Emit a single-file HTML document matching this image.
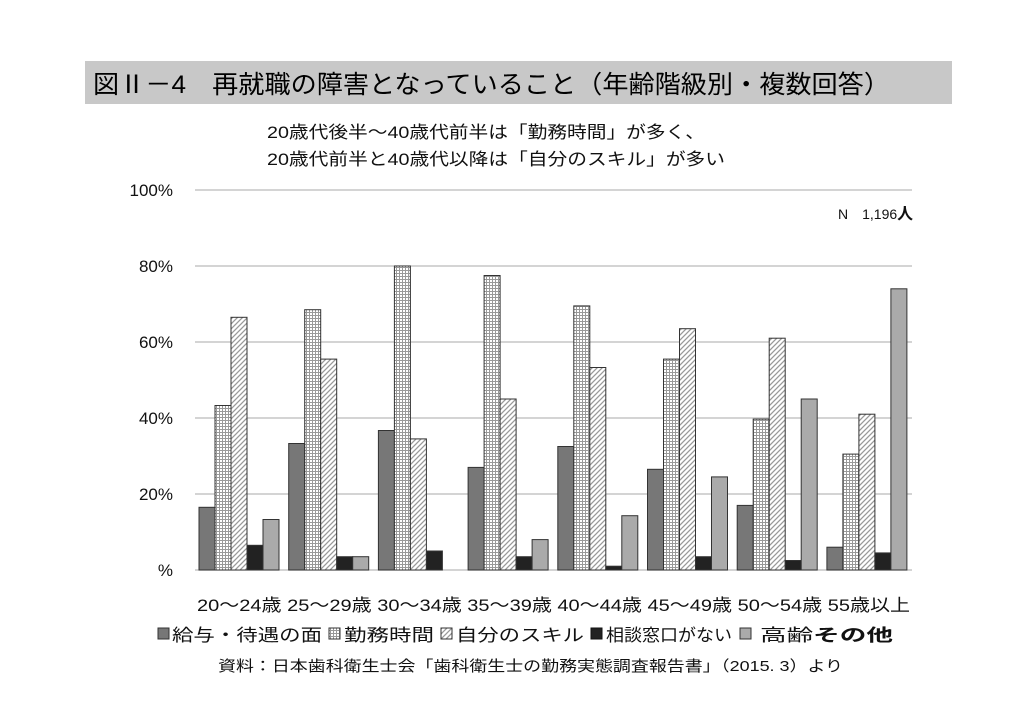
<!DOCTYPE html>
<html><head><meta charset="utf-8"><style>
body{margin:0;background:#fff}
svg text{font-family:"Liberation Sans","Noto Sans CJK JP",sans-serif;fill:#111}
</style></head><body>
<svg width="1024" height="717" xmlns="http://www.w3.org/2000/svg">
<defs>
<pattern id="grid" width="3" height="3" patternUnits="userSpaceOnUse">
<rect width="3" height="3" fill="#fff"/><path d="M0 0.5H3M0.5 0V3" stroke="#999" stroke-width="1"/>
</pattern>
<pattern id="diag" width="5" height="5" patternUnits="userSpaceOnUse">
<rect width="5" height="5" fill="#fff"/><path d="M-1 6L6 -1M-1 1L1 -1M4 6L6 4" stroke="#999" stroke-width="1.3"/>
</pattern>
</defs>
<rect x="85" y="61" width="867" height="43" fill="#c8c8c8"/>
<text x="93" y="93" font-size="25" textLength="797" lengthAdjust="spacingAndGlyphs" style="fill:#000">図Ⅱ－4　再就職の障害となっていること（年齢階級別・複数回答）</text>
<text x="267" y="138" font-size="17" textLength="438" lengthAdjust="spacingAndGlyphs">20歳代後半～40歳代前半は「勤務時間」が多く、</text>
<text x="267" y="165" font-size="17" textLength="458" lengthAdjust="spacingAndGlyphs">20歳代前半と40歳代以降は「自分のスキル」が多い</text>
<g stroke="#bbb" stroke-width="1.3">
<line x1="195" y1="190" x2="912" y2="190"/><line x1="195" y1="266" x2="912" y2="266"/>
<line x1="195" y1="342" x2="912" y2="342"/><line x1="195" y1="418" x2="912" y2="418"/>
<line x1="195" y1="494" x2="912" y2="494"/><line x1="195" y1="570" x2="912" y2="570"/>
</g>
<g font-size="17" text-anchor="end">
<text x="173" y="196">100%</text><text x="173" y="272">80%</text><text x="173" y="348">60%</text>
<text x="173" y="424">40%</text><text x="173" y="500">20%</text><text x="173" y="576">%</text>
</g>
<text x="838" y="219" font-size="14">N　1,196<tspan font-weight="bold" font-size="16">人</tspan></text>
<g id="bars" stroke="#333" stroke-width="1"></g>
<text x="197" y="611" font-size="17" textLength="713" lengthAdjust="spacingAndGlyphs">20～24歳 25～29歳 30～34歳 35～39歳 40～44歳 45～49歳 50～54歳 55歳以上</text>
<g font-size="17">
<rect x="158" y="628" width="11" height="11" fill="#777" stroke="#333"/>
<text x="172" y="641" textLength="150" lengthAdjust="spacingAndGlyphs">給与・待遇の面</text>
<rect x="329" y="628" width="11" height="11" fill="url(#grid)" stroke="#333"/>
<text x="344" y="641" textLength="90" lengthAdjust="spacingAndGlyphs">勤務時間</text>
<rect x="441" y="628" width="11" height="11" fill="url(#diag)" stroke="#333"/>
<text x="456" y="641" textLength="128" lengthAdjust="spacingAndGlyphs">自分のスキル</text>
<rect x="591" y="628" width="11" height="11" fill="#222" stroke="#111"/>
<text x="606" y="641" textLength="126" lengthAdjust="spacingAndGlyphs">相談窓口がない</text>
<rect x="740" y="628" width="11" height="11" fill="#aaa" stroke="#333"/>
<text x="760" y="641" textLength="133" lengthAdjust="spacingAndGlyphs">高齢<tspan font-weight="bold">その他</tspan></text>
</g>
<text x="218" y="671" font-size="15" textLength="625" lengthAdjust="spacingAndGlyphs">資料：日本歯科衛生士会「歯科衛生士の勤務実態調査報告書」（2015. 3）より</text>
</svg>
<script>
var d=[[16.5,43.3,66.5,6.5,13.3],[33.3,68.5,55.5,3.5,3.5],[36.7,80,34.5,5,0],[27,77.5,45,3.5,8],[32.5,69.5,53.3,1,14.3],[26.5,55.5,63.5,3.5,24.5],[17,39.7,61,2.5,45],[6,30.5,41,4.5,74]];
var f=["#777","url(#grid)","url(#diag)","#222","#aaa"];
var g=document.getElementById("bars"),s="";
d.forEach(function(r,i){r.forEach(function(v,j){if(v<=0)return;var h=v*3.8,x=199+i*89.7+j*16;
s+='<rect x="'+x.toFixed(1)+'" y="'+(570-h).toFixed(1)+'" width="16" height="'+h.toFixed(1)+'" fill="'+f[j]+'"/>';});});
g.innerHTML=s;
</script>
</body></html>
